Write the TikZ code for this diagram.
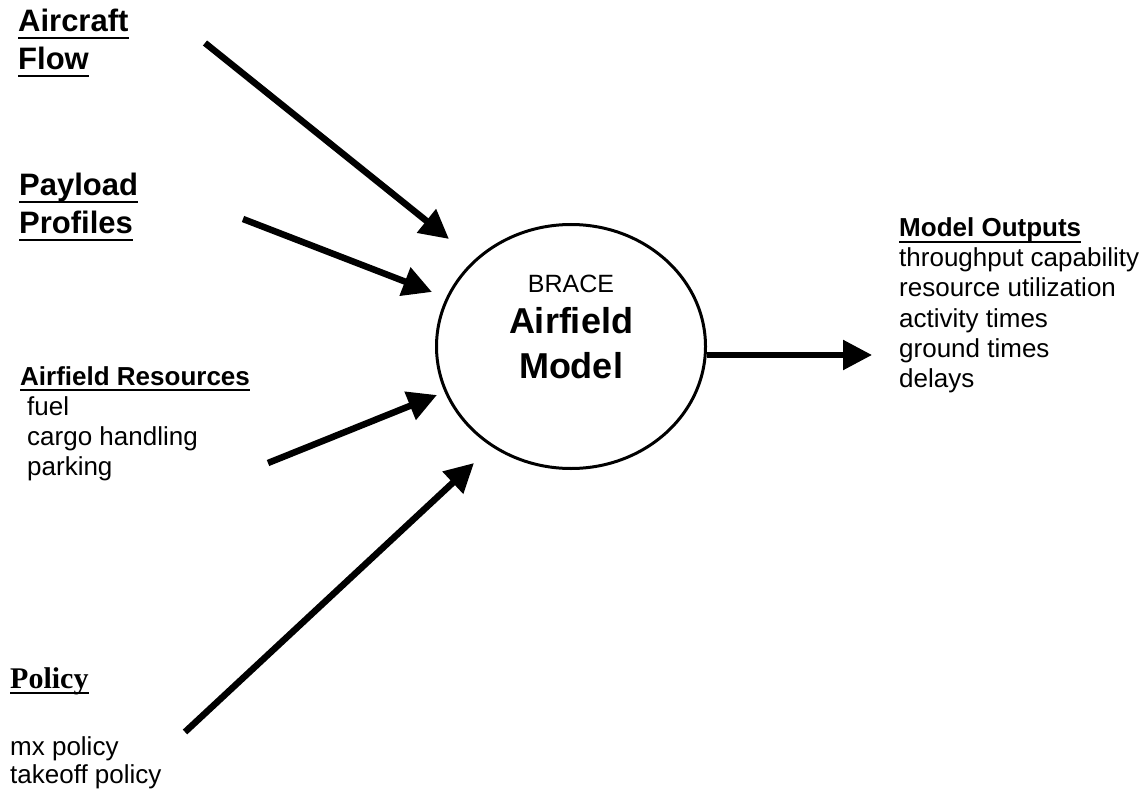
\documentclass[tikz,border=0pt]{standalone}
\usepackage{fontspec}
\setmainfont{Liberation Sans}
\newfontfamily\timesfont{Liberation Serif}
\usetikzlibrary{arrows.meta,shapes.geometric}
\begin{document}
\begin{tikzpicture}[x=1pt,y=-1pt,
  head/.style={font=\fontsize{31}{31}\selectfont\bfseries, anchor=base west, inner sep=0pt},
  sub/.style={font=\fontsize{26}{26}\selectfont\bfseries, anchor=base west, inner sep=0pt},
  item/.style={font=\fontsize{26}{26}\selectfont, anchor=base west, inner sep=0pt},
  poltext/.style={font=\fontsize{30}{30}\selectfont\timesfont\bfseries, anchor=base west, inner sep=0pt},
  ctr/.style={anchor=base, inner sep=0pt},
  ulline/.style={line width=2.5pt},
  arr/.style={line width=6.5pt, -{Triangle[length=29pt,width=29pt]}},
  model/.style={draw, ellipse, line width=3pt, minimum width=269pt, minimum height=244pt, inner sep=0pt}
]
\useasboundingbox (0,0) rectangle (1147,791);

% central model
\node[model] (M) at (571,346.5) {};
\node[ctr, font=\fontsize{25}{25}\selectfont] (brace) at (571,293) {BRACE};
\node[ctr, font=\fontsize{36}{36}\selectfont\bfseries] (airf) at (571,333) {Airfield};
\node[ctr, font=\fontsize{36}{36}\selectfont\bfseries] (modl) at (571,378) {Model};

% inputs
\node[head] (af1) at (18,32) {Aircraft};
\node[head] (af2) at (18,70) {Flow};
\node[head] (pp1) at (19,196) {Payload};
\node[head] (pp2) at (19,234) {Profiles};
\node[sub] (ar) at (20,385) {Airfield Resources};
\node[item] (ar1) at (27,415) {fuel};
\node[item] (ar2) at (27,445) {cargo handling};
\node[item] (ar3) at (27,475) {parking};
\node[poltext] (pol) at (10,688) {Policy};
\node[item] (pol1) at (10,755) {mx policy};
\node[item] (pol2) at (10,783) {takeoff policy};

% outputs
\node[sub] (mo) at (899,237) {Model Outputs};
\node[item] (mo1) at (899,267) {throughput capability};
\node[item] (mo2) at (899,297) {resource utilization};
\node[item] (mo3) at (899,327) {activity times};
\node[item] (mo4) at (899,357) {ground times};
\node[item] (mo5) at (899,387) {delays};

% underlines
\foreach \n in {af1,af2,pp1,pp2}
  \draw[ulline] ([yshift=-6pt]\n.base west) -- ([yshift=-6pt]\n.base east);
\foreach \n in {ar,mo}
  \draw[ulline, line width=2.2pt] ([yshift=-5pt]\n.base west) -- ([yshift=-5pt]\n.base east);
\draw[ulline, line width=2pt] ([yshift=-5pt]pol.base west) -- ([yshift=-5pt]pol.base east);

% arrow endpoints
\coordinate (a0) at (205,43);  \coordinate (a1) at (449,239);
\coordinate (b0) at (243,219); \coordinate (b1) at (432,292);
\coordinate (c0) at (268,463); \coordinate (c1) at (437,395);
\coordinate (d0) at (185,732); \coordinate (d1) at (474,463);
\coordinate (e1) at (872,355);

\draw[arr] (a0) -- (a1);
\draw[arr] (b0) -- (b1);
\draw[arr] (c0) -- (c1);
\draw[arr] (d0) -- (d1);
\draw[arr, line width=5.5pt] (M.east |- e1) -- (e1);
\end{tikzpicture}
\end{document}
